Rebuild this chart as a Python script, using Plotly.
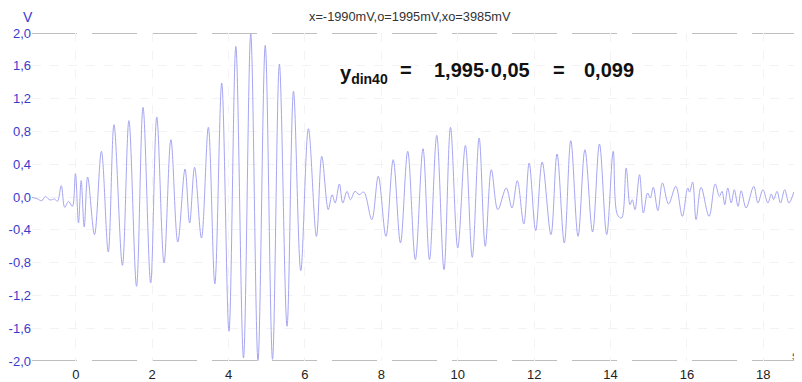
import plotly.graph_objects as go

time_s = [-1.19, -1.02, -0.89, -0.80, -0.67, -0.56, -0.48, -0.38, -0.29, -0.19, -0.09, -0.01,
          0.07, 0.14, 0.22, 0.31, 0.49, 0.67, 0.85, 1.00, 1.22, 1.39, 1.59, 1.76, 1.96, 2.12,
          2.31, 2.49, 2.67, 2.86, 2.98, 3.11, 3.29, 3.47, 3.64, 3.82, 4.01, 4.19, 4.39, 4.58,
          4.77, 4.96, 5.15, 5.33, 5.53, 5.70, 5.89, 6.09, 6.30, 6.44, 6.61, 6.71, 6.79, 6.90,
          6.99, 7.10, 7.19, 7.31, 7.42, 7.54, 7.75, 7.92, 8.12, 8.31, 8.50, 8.69, 8.89, 9.09,
          9.26, 9.45, 9.64, 9.81, 10.00, 10.20, 10.38, 10.56, 10.72, 10.88, 11.05, 11.27, 11.42,
          11.56, 11.73, 11.87, 12.04, 12.21, 12.44, 12.60, 12.79, 12.96, 13.15, 13.33, 13.53,
          13.71, 13.90, 14.07, 14.18, 14.29, 14.41, 14.51, 14.57, 14.64, 14.76, 14.86, 14.97,
          15.04, 15.12, 15.24, 15.36, 15.52, 15.71, 15.88, 16.02, 16.07, 16.15, 16.24, 16.37,
          16.58, 16.74, 16.85, 16.92, 16.99, 17.07, 17.16, 17.24, 17.34, 17.42, 17.55, 17.75,
          17.86, 17.99, 18.12, 18.21, 18.27, 18.36, 18.45, 18.56, 18.67, 18.80]
voltage_v = [0.00, -0.02, -0.045, 0.005, -0.037, -0.024, -0.053, 0.138, -0.126, -0.053, -0.114, 0.285,
             -0.317, 0.199, -0.366, 0.244, -0.459, 0.557, -0.671, 0.882, -0.833, 0.931, -1.089, 1.093, -1.049, 0.976,
             -0.805, 0.699, -0.549, 0.341, -0.317, 0.362, -0.500, 0.850, -1.061, 1.390, -1.638, 1.837, -1.963, 1.988,
             -1.995, 1.85, -1.98, 1.622, -1.577, 1.289, -0.898, 0.833, -0.480, 0.496, -0.154, 0.028, -0.073, 0.159,
             -0.073, 0.069, -0.033, 0.069, 0.028, 0.061, -0.276, 0.252, -0.480, 0.455, -0.561, 0.557, -0.764, 0.589,
             -0.764, 0.752, -0.886, 0.850, -0.622, 0.630, -0.736, 0.720, -0.602, 0.333, -0.154, 0.110, -0.134,
             0.199, -0.329, 0.415, -0.411, 0.427, -0.459, 0.524, -0.561, 0.687, -0.480, 0.577, -0.427,
             0.646, -0.459, 0.557, -0.215, -0.256, 0.354, -0.093, -0.033, -0.154, 0.272, -0.195, 0.049,
             -0.012, 0.118, -0.167, 0.171, -0.085, 0.130, -0.236, 0.110, 0.060, 0.183, -0.276, 0.118,
             -0.236, 0.159, 0.008, 0.069, -0.093, 0.110, -0.073, 0.089, -0.114, 0.077, -0.134, 0.130,
             -0.073, 0.089, -0.073, 0.037, -0.033, 0.069, -0.073, 0.089, -0.073, 0.061]

x_ticks = [0, 2, 4, 6, 8, 10, 12, 14, 16, 18]
x_tick_labels = ["0", "2", "4", "6", "8", "10", "12", "14", "16", "18"]
y_ticks = [2.0, 1.6, 1.2, 0.8, 0.4, 0.0, -0.4, -0.8, -1.2, -1.6, -2.0]
y_tick_labels = ["2,0", "1,6", "1,2", "0,8", "0,4", "0,0", "-0,4", "-0,8", "-1,2", "-1,6", "-2,0"]

header_text = "x=-1990mV,o=1995mV,xo=3985mV"
formula_parts = ["<b>y<sub>din40</sub></b>", "<b>=</b>", "<b>1,995·0,05</b>", "<b>=</b>", "<b>0,099</b>"]

# ---- layout geometry (page has an 8px body margin) ----
OFF = 8
W, H = 802 - OFF, 382 - OFF
L, T = 32 - OFF, 33 - OFF
PW, PH = 763, 328
R, B = W - L - PW, H - T - PH

def pxx(px):   # page pixel x -> paper fraction
    return (px - OFF - L) / PW

def pxy(py):   # page pixel y -> paper fraction
    return (T + PH - (py - OFF)) / PH

fig = go.Figure()
fig.add_trace(go.Scatter(
    x=time_s, y=voltage_v, mode="lines",
    line=dict(color="#a6a6f2", width=1, shape="spline", smoothing=1.0),
    hoverinfo="skip", showlegend=False,
))

for yv in (2.0, -2.0):
    fig.add_shape(type="line", xref="paper", yref="y", x0=0, x1=1, y0=yv, y1=yv,
                  line=dict(color="#a9a9a9", width=1.5, dash="45px,15px"), layer="below")

font_family = "Liberation Sans, Arial, sans-serif"
annos = [
    dict(x=pxx(410), y=pxy(17), text=header_text, xanchor="center", yanchor="middle",
         font=dict(size=12.8, color="#333333")),
    dict(x=pxx(28), y=pxy(17), text="V", xanchor="center", yanchor="middle",
         font=dict(size=14, color="#3a3acc")),
    dict(x=pxx(795), y=pxy(355), text="s", xanchor="center", yanchor="middle",
         font=dict(size=13, color="#555555")),
]
formula_pos = [(338, "left", 74), (406, "center", 70), (432, "left", 70), (559, "center", 70), (582, "left", 70)]
for txt, (px, anc, py) in zip(formula_parts, formula_pos):
    annos.append(dict(x=pxx(px), y=pxy(py), text=txt, xanchor=anc, yanchor="middle",
                      font=dict(size=20, color="#111111")))
for a in annos:
    a.update(xref="paper", yref="paper", showarrow=False)
    a["font"]["family"] = font_family

fig.update_layout(
    width=W, height=H,
    margin=dict(l=L, r=R, t=T, b=B, autoexpand=False),
    paper_bgcolor="white", plot_bgcolor="white",
    font=dict(family=font_family, size=13),
    annotations=annos,
    xaxis=dict(range=[-1.147, 18.83], tickvals=x_ticks, ticktext=x_tick_labels,
               showgrid=True, gridcolor="#f3f3f6", griddash="dash", zeroline=False,
               showline=False, ticks="", tickfont=dict(size=13, color="#222222"),
               ticklabelstandoff=4, automargin=False, fixedrange=True),
    yaxis=dict(range=[-2.0, 2.0], tickvals=y_ticks, ticktext=y_tick_labels,
               showgrid=True, gridcolor="#f3f3f6", griddash="dash", zeroline=False,
               showline=False, ticks="", tickfont=dict(size=13, color="#3a3acc"),
               ticklabelstandoff=0, automargin=False, fixedrange=True),
)

fig.write_html("out.html")
